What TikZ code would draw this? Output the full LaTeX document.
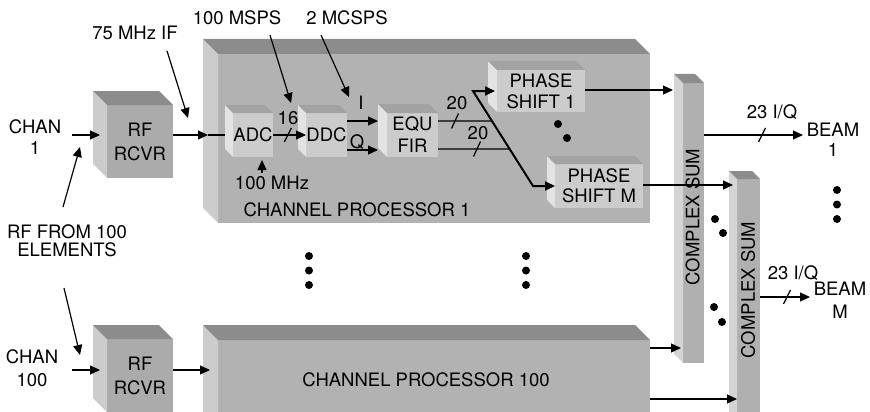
\documentclass[tikz,border=0pt]{standalone}
\usepackage{fontspec}
\setmainfont{TeX Gyre Heros}
\usetikzlibrary{arrows.meta,calc}
\definecolor{cpF}{gray}{0.70}
\definecolor{cpL}{gray}{0.80}
\definecolor{cpT}{gray}{0.55}
\definecolor{inF}{gray}{0.80}
\definecolor{inL}{gray}{0.89}
\definecolor{inT}{gray}{0.64}
\definecolor{rfF}{gray}{0.67}
\definecolor{rfL}{gray}{0.80}
\definecolor{rfT}{gray}{0.55}
\definecolor{csF}{gray}{0.69}
\definecolor{csL}{gray}{0.83}
\definecolor{csT}{gray}{0.55}
\newcommand\boxfaces[4]{%
  \fill[#3] (#1.north west) -- ++(-#2,-#2) -- ($(#1.south west)+(-#2,-#2)$) -- (#1.south west) -- cycle;
  \fill[#4] (#1.north west) -- ++(-#2,-#2) -- ($(#1.north east)+(-#2,-#2)$) -- (#1.north east) -- cycle;
}
\begin{document}
\begin{tikzpicture}[x=1pt,y=-1pt,
  every node/.style={inner sep=0pt,outer sep=0pt,font=\fontsize{18.5}{21}\selectfont},
  arr/.style={line width=1.2pt,-{Triangle[length=10pt,width=9pt]}},
  ln/.style={line width=1.2pt},
  bus/.style={line width=2pt,{Triangle[length=10pt,width=9pt]}-{Triangle[length=10pt,width=9pt]}},
  lbl/.style={align=center},
  blk/.style={align=center}
]
\useasboundingbox (0,0) rectangle (870,412);
\clip (0,0) rectangle (870,412);

% channel processors
\node[blk,fill=cpF,minimum width=432pt,minimum height=169pt] (cp1) at (434,138.5) {};
\boxfaces{cp1}{15}{cpL}{cpT}
\node[blk,fill=cpF,minimum width=432pt,minimum height=100pt] (cp100) at (434,390) {};
\boxfaces{cp100}{15}{cpL}{cpT}
\node (cp1t) at (357,210) {CHANNEL PROCESSOR 1};
\node (cp100t) at (426,380) {CHANNEL PROCESSOR 100};

% RF receivers
\node[blk,fill=rfF,minimum width=66pt,minimum height=73pt,font=\fontsize{18.5}{24}\selectfont] (rf1) at (140,141.5) {RF\\RCVR};
\boxfaces{rf1}{14}{rfL}{rfT}
\node[blk,fill=rfF,minimum width=66pt,minimum height=73pt,font=\fontsize{18.5}{24}\selectfont] (rf2) at (140,375.5) {RF\\RCVR};
\boxfaces{rf2}{14}{rfL}{rfT}

% inner blocks
\node[blk,fill=inF,minimum width=40pt,minimum height=44pt] (adc) at (253,135) {ADC};
\boxfaces{adc}{8}{inL}{inT}
\node[blk,fill=inF,minimum width=41pt,minimum height=44pt] (ddc) at (326.5,135) {DDC};
\boxfaces{ddc}{8}{inL}{inT}
\node[blk,fill=inF,minimum width=51pt,minimum height=44pt,font=\fontsize{18.5}{22}\selectfont] (equ) at (412.5,135) {EQU\\FIR};
\boxfaces{equ}{9}{inL}{inT}
\node[blk,fill=inF,minimum width=88pt,minimum height=42pt] (ps1) at (541,91) {PHASE\\SHIFT 1};
\boxfaces{ps1}{9}{inL}{inT}
\node[blk,fill=inF,minimum width=88pt,minimum height=44pt,font=\fontsize{18.5}{20}\selectfont] (psm) at (599,186) {PHASE\\SHIFT M};
\boxfaces{psm}{8}{inL}{inT}

% complex sums
\node[fill=csF,minimum width=21pt,minimum height=280pt] (cs1) at (693.5,223) {};
\boxfaces{cs1}{9}{csL}{csT}
\node[fill=csF,minimum width=23pt,minimum height=261pt] (cs2) at (748.5,309.5) {};
\boxfaces{cs2}{8}{csL}{csT}
\node[rotate=90] (cs1t) at (692.5,217) {COMPLEX SUM};
\node[rotate=90] (cs2t) at (748,290) {COMPLEX SUM};

% labels
\node[lbl] (chan1) at (35,137.5) {CHAN\\1};
\node[lbl,font=\fontsize{18.5}{23}\selectfont] (chan100) at (32,368.5) {CHAN\\100};
\node[lbl,font=\fontsize{18.5}{18}\selectfont] (rffrom) at (67,241) {RF FROM 100\\ELEMENTS};
\node (ifl) at (135,33) {75 MHz IF};
\node (msps) at (237,18) {100 MSPS};
\node (mcsps) at (347,18) {2 MCSPS};
\node (clk) at (272,183) {100 MHz};
\node (n16) at (288,118) {16};
\node (il) at (361,103) {I};
\node (ql) at (357,142) {Q};
\node (n20a) at (457,103) {20};
\node (n20b) at (478,133) {20};
\node (iq1) at (772,112) {23 I/Q};
\node (iqm) at (793,273) {23 I/Q};
\node[lbl,font=\fontsize{18.5}{20}\selectfont] (beam1) at (833,140) {BEAM\\1};
\node[lbl,font=\fontsize{18.5}{23}\selectfont] (beamm) at (840,300.5) {BEAM\\M};

% free ends
\coordinate (c1in) at (72,135);
\coordinate (c100in) at (72,370);
\coordinate (rfup0) at (63,207);
\coordinate (rfup1) at (80,147);
\coordinate (rfdn0) at (64,288);
\coordinate (rfdn1) at (80,355);
\coordinate (b0) at (473,91);
\coordinate (b1) at (533,186);
\coordinate (beam1in) at (803,135);
\coordinate (beammin) at (810,297);

% connectors
\draw[arr] (c1in) -- ($(rf1.west)+(-7,-6.5)$);
\draw[arr] (c100in) -- ($(rf2.west)+(-7,-5.5)$);
\draw[arr] (rfup0) -- (rfup1);
\draw[arr] (rfdn0) -- (rfdn1);
\draw[arr] (rf1.east |- adc.west) -- ($(cp1.west |- adc.west)+(-10,0)$);
\draw[ln] ($(cp1.west |- adc.west)+(-10,0)$) -- ($(adc.west)+(-8,0)$);
\draw[arr] ($(rf2.east)+(0,-5.5)$) -- ($(cp100.west)+(-8,-20)$);
\draw[arr] (ifl.south) ++(32,11) -- (188,118);
\draw[arr] (msps.south) ++(33,10) -- (291,103);
\draw[arr] (mcsps.south) ++(-26,10) -- (349,97);
\draw[arr] ($(clk.north)+(-10,-3)$) -- ($(adc.south)+(9,3)$);
\draw[arr] (adc.east) -- (ddc.west);
\draw[ln] ($(adc.east)!0.45!(ddc.west)+(-3.5,7)$) -- ++(7,-14);
\draw[arr] ($(ddc.east)+(0,-14)$) -- ($(equ.west)+(-9,-14)$);
\draw[arr] ($(ddc.east)+(0,15)$) -- ($(equ.west)+(-9,15)$);
\draw[ln] ($(equ.east)+(0,-14)$) -- ($(b0)!0.3158!(b1)$);
\draw[ln] ($(equ.east)+(0,14)$) -- ($(b0)!0.6105!(b1)$);
\draw[ln] (451.5,128.5) -- ++(7,-15);
\draw[ln] (473.5,156.5) -- ++(7,-15);
\draw[bus] ($(ps1.west)+(-2,0)$) -- (b0) -- (b1) -- (psm.west);
\draw[arr] ($(ps1.east)+(0,-1)$) -- ($(cs1.west |- ps1.east)+(-10,-1)$);
\draw[arr] ($(psm.east)+(0,-1)$) -- ($(cs2.west |- psm.east)+(-4,-1)$);
\draw[arr] ($(cs1.north east)+(0,52)$) -- (beam1in);
\draw[ln] (758.5,142) -- ++(7,-14);
\draw[arr] ($(cs2.east)+(0,-12.5)$) -- (beammin);
\draw[ln] (783.5,304) -- ++(7,-14);
\draw[arr] ($(cp100.north east)+(0,8)$) -- ($(cs1.south west)+(-2,-15)$);
\draw[arr] ($(cp100.north east)+(0,59)$) -- ($(cs2.west)+(0,89.5)$);

% dots
\foreach \p in {(558,124),(567,138),(715,219),(723,233),(714,307),(722,322),
  (309,256),(309,270.5),(309,285),(526,256),(526,270.5),(526,285),
  (837,190),(837,204.5),(837,219)}
  \fill \p circle[radius=4pt];
\end{tikzpicture}
\end{document}
